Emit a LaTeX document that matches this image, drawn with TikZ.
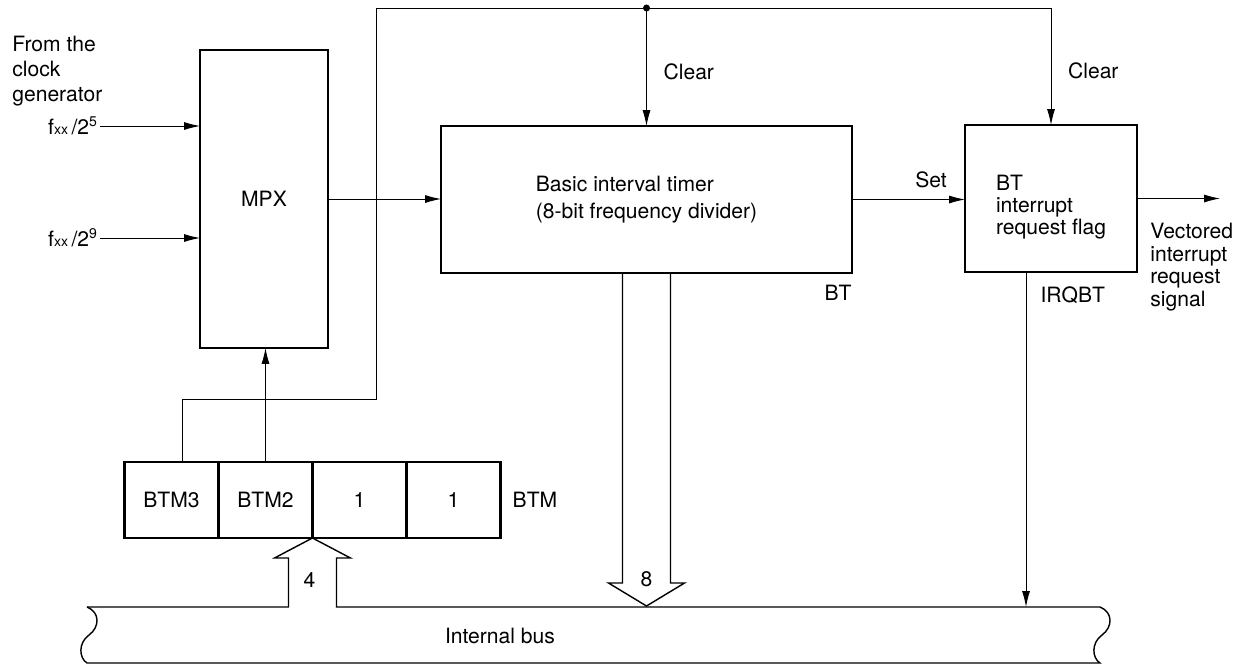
\documentclass[tikz,border=0pt]{standalone}
\usepackage{fontspec}
\setmainfont{TeX Gyre Heros}
\usetikzlibrary{positioning,calc,arrows.meta}
\tikzset{%
  blockBox/.style={%
    rectangle,
    draw,
    line width=1.6pt,
    inner sep=0pt,
    outer sep=0pt
  },
  regCell/.style={%
    rectangle,
    draw,
    line width=1.4pt,
    minimum width=1.88cm,
    minimum height=1.52cm,
    inner sep=0pt,
    outer sep=0pt
  },
  sigLine/.style={%
    line width=0.5pt
  },
  sigArrow/.style={%
    -{Latex[length=9pt,width=4.5pt]},
    line width=0.5pt
  },
  busLine/.style={%
    line width=0.8pt,
    line join=miter
  }
}

\begin{document}
\begin{tikzpicture}[x=0.02cm, y=-0.02cm, font=\fontsize{12}{14}\selectfont]
            \useasboundingbox (0,0) rectangle (1253,664);

            % blocks
            \node[blockBox, minimum width=2.56cm, minimum height=5.96cm] (mpx) at (264,199) {MPX};
            \node[blockBox, minimum width=8.22cm, minimum height=2.94cm, align=left] (bit) at (646.5,199.5) {Basic interval timer\\[1.4pt](8-bit frequency divider)};
            \node[blockBox, minimum width=3.44cm, minimum height=2.94cm, align=left, font=\fontsize{12}{12.5}\selectfont] (flag) at (1051,198.5) {\rule{0pt}{18.5pt}BT\\interrupt\\request flag};

            % clock inputs
            \node[anchor=north west, align=left, inner sep=0pt, font=\fontsize{12}{14.2}\selectfont] (clk) at (12,36) {From the\\clock\\generator};
            \node[anchor=east, inner sep=1pt] (f5) at (100,126) {f{\footnotesize xx}\,/2\textsuperscript{5}};
            \node[anchor=east, inner sep=1pt] (f9) at (100,238) {f{\footnotesize xx}\,/2\textsuperscript{9}};
            \draw[sigArrow] (f5.east) -- (f5.east -| mpx.west);
            \draw[sigArrow] (f9.east) -- (f9.east -| mpx.west);

            \draw[sigArrow] (mpx.east) -- (mpx.east -| bit.west);
            \draw[sigArrow] (bit.east) -- node[pos=0.7, above=6.5pt, inner sep=0pt]{Set} (bit.east -| flag.west);

            % output of the flag
            \coordinate (vout) at (1220,198.5);
            \draw[sigArrow] (flag.east) -- (vout);
            \node[anchor=north west, align=left, inner sep=0pt, font=\fontsize{12}{12.8}\selectfont] (vlbl) at (1150,223) {Vectored\\interrupt\\request\\signal};
            \node[anchor=east, inner sep=0pt] (btlbl) at ($(bit.south east)+(0,20)$) {BT};

            % mode register
            \node[regCell] (btm3) at (171.5,500) {BTM3};
            \node[regCell, right=0pt of btm3] (btm2) {BTM2};
            \node[regCell, right=0pt of btm2] (btm1) {1};
            \node[regCell, right=0pt of btm1] (btm0) {1};
            \node[right=6.8pt of btm0, inner sep=0pt] (btmlbl) {BTM};

            \draw[sigArrow] (btm2.north) -- (btm2.north |- mpx.south);

            % clear line
            \coordinate (b3tap) at ($(btm3.north)+(10.5,0)$);
            \coordinate (loopR) at (376,399);
            \coordinate (tap) at (bit.north |- 0,8);
            \draw[sigLine] (b3tap) |- (loopR) |- (tap);
            \fill (tap) circle[radius=2pt];
            \draw[sigArrow] (tap) -- node[pos=0.54, right=9.5pt, inner sep=0pt]{Clear} (bit.north);
            \draw[sigArrow] (tap) -| node[pos=0.77, right=9.5pt, inner sep=0pt]{Clear} (flag.north);

            % internal bus
            \coordinate (busTL) at (87,607);
            \coordinate (busTR) at (1100,607);
            \coordinate (tip4) at (btm2.south east);
            \coordinate (tip8) at (bit.south |- 0,606);
            \draw[busLine] (busTL) .. controls (100,612) and (100,627) .. (89,635) .. controls (78,643) and (79,658) .. (87,663);
            \draw[busLine] (busTL) -- ($(tip4 |- busTL)+(-24,0)$) -- ($(tip4)+(-24,20)$) -- ($(tip4)+(-38,20)$) -- (tip4)
              -- ($(tip4)+(38,20)$) -- ($(tip4)+(24,20)$) -- ($(tip4 |- busTL)+(24,0)$) -- (busTR)
              .. controls (1113,612) and (1113,627) .. (1102,635) .. controls (1091,643) and (1092,658) .. (1100,663) -- (87,663);
            \draw[busLine] ($(bit.south)+(-24,0)$) -- ($(tip8)+(-24,-23)$) -- ($(tip8)+(-38,-23)$) -- (tip8)
              -- ($(tip8)+(38,-23)$) -- ($(tip8)+(24,-23)$) -- ($(bit.south)+(24,0)$);
            \node (w4) at ($(tip4)+(-3,42)$) {4};
            \node (w8) at ($(tip8)+(0,-27)$) {8};
            \node (buslbl) at (500,636) {Internal bus};

            \coordinate (irq) at (1026,607);
            \draw[sigArrow] (flag.south -| irq) -- node[pos=0.07, anchor=west, xshift=8pt, inner sep=0pt]{IRQBT} (irq);

        \end{tikzpicture}
\end{document}
